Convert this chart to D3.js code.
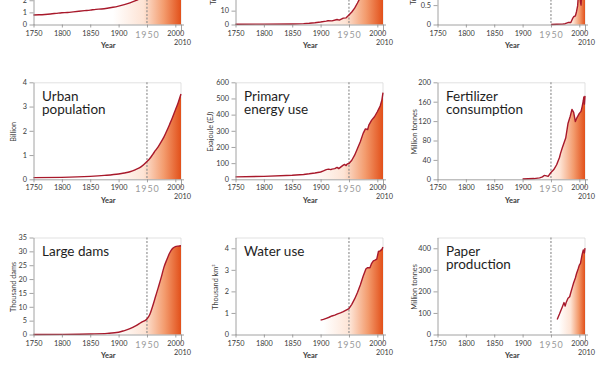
<!DOCTYPE html>
<html>
<head>
<meta charset="utf-8">
<script src="https://cdn.jsdelivr.net/npm/d3@7"></script>
<style>
	body{ margin:0; background:#fff; }
	svg{ display:block; font-family:Lato, "Open Sans", sans-serif; }
	.axis text{ font-family:Lato, "Open Sans", sans-serif; font-size:7.3px; fill:#3a3a3a; }
	.axis path, .axis line{ stroke:#8c8c8c; stroke-width:0.8; }
	.title{ font-size:13.5px; fill:#1e1e1e; }
	.unit{ font-size:7.3px; fill:#3a3a3a; }
	.year{ font-size:7.5px; font-weight:bold; fill:#3a3a3a; }
</style>
</head>
<body>
<div id="container"></div>
<script>

// [year, value] pairs
var population = [[1750,0.78],[1760,0.8],[1770,0.83],[1780,0.87],[1790,0.92],[1800,0.97],[1810,0.99],[1820,1.04],[1830,1.09],[1840,1.14],[1850,1.19],[1860,1.25],[1870,1.28],[1880,1.34],[1890,1.42],[1900,1.52],[1910,1.64],[1920,1.78],[1930,1.96],[1940,2.2],[1950,2.52],[1960,3.02],[1970,3.7],[1980,4.44],[1990,5.3],[2000,6.1],[2010,6.9]];
var realGdp = [[1750,0.2],[1800,0.3],[1850,0.4],[1870,0.6],[1880,0.9],[1890,1.3],[1900,1.8],[1910,2.4],[1913,2.7],[1920,2.6],[1929,3.6],[1933,3.2],[1940,4.6],[1945,4.8],[1950,6.8],[1955,9],[1960,11.8],[1965,15.5],[1970,19.5],[1975,23],[1980,27],[1985,31],[1990,36],[1995,40],[2000,46],[2005,54],[2008,60],[2009,59],[2010,62]];
var fdi = [[1950,0],[1960,0.005],[1970,0.01],[1975,0.02],[1980,0.05],[1985,0.05],[1988,0.15],[1990,0.2],[1993,0.22],[1995,0.33],[1997,0.48],[1998,0.69],[1999,1.1],[2000,1.4],[2001,0.83],[2002,0.58],[2003,0.5],[2004,0.74],[2005,0.98],[2006,1.4],[2007,2.0],[2008,1.8],[2009,1.2],[2010,1.24]];
var urbanPopulation = [[1750,0.07],[1800,0.08],[1850,0.12],[1875,0.16],[1900,0.22],[1910,0.26],[1920,0.31],[1930,0.4],[1940,0.52],[1950,0.73],[1955,0.86],[1960,1.02],[1965,1.19],[1970,1.35],[1975,1.54],[1980,1.75],[1985,2.0],[1990,2.27],[1995,2.55],[2000,2.85],[2005,3.16],[2010,3.52]];
var primaryEnergy = [[1750,15],[1800,18],[1850,25],[1870,30],[1880,34],[1890,39],[1900,45],[1905,52],[1910,60],[1914,63],[1918,60],[1920,63],[1925,66],[1929,74],[1932,66],[1937,80],[1940,88],[1942,92],[1945,85],[1947,95],[1950,98],[1955,118],[1960,149],[1965,190],[1970,232],[1975,284],[1979,312],[1983,308],[1985,335],[1990,366],[1995,387],[2000,418],[2005,453],[2008,490],[2010,536]];
var fertilizer = [[1900,0.5],[1910,1],[1920,1.5],[1930,3],[1935,5],[1938,8],[1942,7],[1945,6],[1950,14],[1955,20],[1960,30],[1965,45],[1967,54],[1970,65],[1976,85],[1980,115],[1984,130],[1987,144],[1990,138],[1993,119],[1995,125],[2000,136],[2003,140],[2005,150],[2007,162],[2008,170],[2009,155],[2010,172]];
var largeDams = [[1750,0],[1800,0.05],[1850,0.2],[1880,0.4],[1900,0.8],[1910,1.4],[1920,2.1],[1930,3.1],[1940,4.4],[1950,5.6],[1955,7.2],[1960,10.2],[1965,13.6],[1970,17],[1975,20.5],[1980,24.3],[1985,27],[1990,29.4],[1995,31],[2000,31.7],[2005,31.9],[2010,32]];
var waterUse = [[1900,0.67],[1905,0.7],[1910,0.75],[1915,0.8],[1920,0.86],[1925,0.9],[1930,0.96],[1935,1.0],[1940,1.06],[1945,1.13],[1950,1.2],[1955,1.4],[1960,1.65],[1965,1.95],[1970,2.3],[1975,2.7],[1980,3.05],[1983,3.1],[1987,3.1],[1990,3.3],[1993,3.42],[1996,3.45],[1999,3.5],[2002,3.85],[2005,3.88],[2008,3.95],[2010,4.05]];
var paperProduction = [[1961,70],[1965,95],[1968,115],[1970,128],[1973,148],[1975,132],[1977,150],[1980,168],[1983,175],[1985,195],[1988,222],[1990,240],[1993,262],[1995,282],[1998,305],[2000,322],[2002,330],[2005,372],[2007,392],[2009,378],[2010,401]];

var yearTicks = [1750, 1800, 1850, 1900, 1950, 2000];

var panels = [
	{title:["Population"], unit:"Billion", data:population, max:8, ticks:d3.range(0, 9, 1), fade:1890, lab:-18, smooth:true},
	{title:["Real GDP"], unit:"Trillion US dollars", data:realGdp, max:70, ticks:d3.range(0, 80, 10), fade:1890, lab:-20},
	{title:["Foreign direct", "investment"], unit:"Trillion US dollars", data:fdi, max:2.5, ticks:[0, 0.5, 1, 1.5, 2, 2.5], fade:1972, lab:-22},
	{title:["Urban", "population"], unit:"Billion", data:urbanPopulation, max:4, ticks:[0, 1, 2, 3, 4], fade:1890, lab:-17.5, smooth:true},
	{title:["Primary", "energy use"], unit:"Exajoule (EJ)", data:primaryEnergy, max:600, ticks:d3.range(0, 700, 100), fade:1885, lab:-22.5},
	{title:["Fertilizer", "consumption"], unit:"Million tonnes", data:fertilizer, max:200, ticks:d3.range(0, 240, 40), fade:1930, lab:-20.5},
	{title:["Large dams"], unit:"Thousand dams", data:largeDams, max:35, ticks:d3.range(0, 40, 5), fade:1895, lab:-18, smooth:true},
	{title:["Water use"], unit:"Thousand km³", data:waterUse, max:4.5, ticks:[0, 1, 2, 3, 4], fade:1905, lab:-17.5},
	{title:["Paper", "production"], unit:"Million tonnes", data:paperProduction, max:450, ticks:[0, 100, 200, 300, 400], fade:1964, lab:-21}
];

var colX = [33.5, 235.5, 437.5],
	rowY = [-72.5, 82.3, 237.5],
	W = 147.5,
	H = 97;

var svg = d3.select("#container")
	.append("svg")
		.attr("width", 600)
		.attr("height", 372);

var x = d3.scaleLinear().domain([1750, 2010]).range([0, W]);

panels.forEach(function(p, i){

	var g = svg.append("g")
		.attr("transform", "translate(" + colX[i % 3] + "," + rowY[Math.floor(i / 3)] + ")");

	var y = d3.scaleLinear().domain([0, p.max]).range([H, 0]);

	var grad = g.append("defs").append("linearGradient")
		.attr("id", "fade" + i)
		.attr("gradientUnits", "userSpaceOnUse")
		.attr("x1", x(p.fade)).attr("x2", x(2010))
		.attr("y1", 0).attr("y2", 0);
	[[0, "#ffffff"], [0.45, "#fde3d4"], [0.75, "#f39b6d"], [1, "#e2501a"]].forEach(function(s){
		grad.append("stop").attr("offset", s[0]).attr("stop-color", s[1]);
	});

	// light frame on top and right
	g.append("path")
		.attr("d", "M0,0.5H" + x(2010) + "V" + H)
		.attr("fill", "none")
		.attr("stroke", "#d4d4d4")
		.attr("stroke-width", 0.7);

	var curve = p.smooth ? d3.curveMonotoneX : d3.curveLinear;

	var area = d3.area()
		.curve(curve)
		.x(function(d){ return x(d[0]); })
		.y0(y(0))
		.y1(function(d){ return y(d[1]); });

	var line = d3.line()
		.curve(curve)
		.x(function(d){ return x(d[0]); })
		.y(function(d){ return y(d[1]); });

	g.append("path")
		.datum(p.data)
		.attr("fill", "url(#fade" + i + ")")
		.attr("d", area);

	g.append("line")
		.attr("x1", x(1950)).attr("x2", x(1950))
		.attr("y1", 0).attr("y2", H)
		.attr("stroke", "#8a8a8a")
		.attr("stroke-width", 1.1)
		.attr("stroke-dasharray", "2,1.6");

	g.append("path")
		.datum(p.data)
		.attr("fill", "none")
		.attr("stroke", "#a8192b")
		.attr("stroke-width", 1.4)
		.attr("stroke-linejoin", "round")
		.attr("d", line);

	var xAxis = d3.axisBottom(x)
		.tickValues(yearTicks)
		.tickSize(3)
		.tickPadding(3)
		.tickSizeOuter(0)
		.tickFormat(function(d){ return d === 1950 ? "" : d; });

	var yAxis = d3.axisLeft(y)
		.tickValues(p.ticks)
		.tickSize(4)
		.tickPadding(2.5)
		.tickSizeOuter(0)
		.tickFormat(d3.format("~g"));

	var xa = g.append("g")
		.attr("class", "axis")
		.attr("transform", "translate(0," + H + ")")
		.call(xAxis);
	xa.select(".domain").attr("d", "M0,0.5H" + (W + 3));

	// 2010 tick and label
	xa.append("line")
		.attr("x1", x(2010) + 0.5).attr("x2", x(2010) + 0.5)
		.attr("y1", 0).attr("y2", 8);
	xa.append("text")
		.attr("x", x(2010) + 1.5).attr("y", 20)
		.attr("text-anchor", "middle")
		.text("2010");
	xa.append("text")
		.attr("x", x(1950) + 0.5).attr("y", 13)
		.attr("text-anchor", "middle")
		.style("font-size", "9px")
		.style("letter-spacing", "0.9px")
		.style("fill", "#9a9a9a")
		.text("1950");

	g.append("g")
		.attr("class", "axis")
		.call(yAxis);

	g.append("text")
		.attr("class", "year")
		.attr("x", W / 2 + 1)
		.attr("y", H + 23.5)
		.attr("text-anchor", "middle")
		.text("Year");

	g.append("text")
		.attr("class", "unit")
		.attr("transform", "translate(" + p.lab + "," + (H / 2 + 1) + ") rotate(-90)")
		.attr("text-anchor", "middle")
		.text(p.unit);

	var t = g.append("text")
		.attr("class", "title")
		.attr("x", 8.5)
		.attr("y", 18.4);
	p.title.forEach(function(s, k){
		t.append("tspan")
			.attr("x", 8.5)
			.attr("dy", k === 0 ? 0 : 13)
			.text(s);
	});
});

</script>
</body>
</html>
